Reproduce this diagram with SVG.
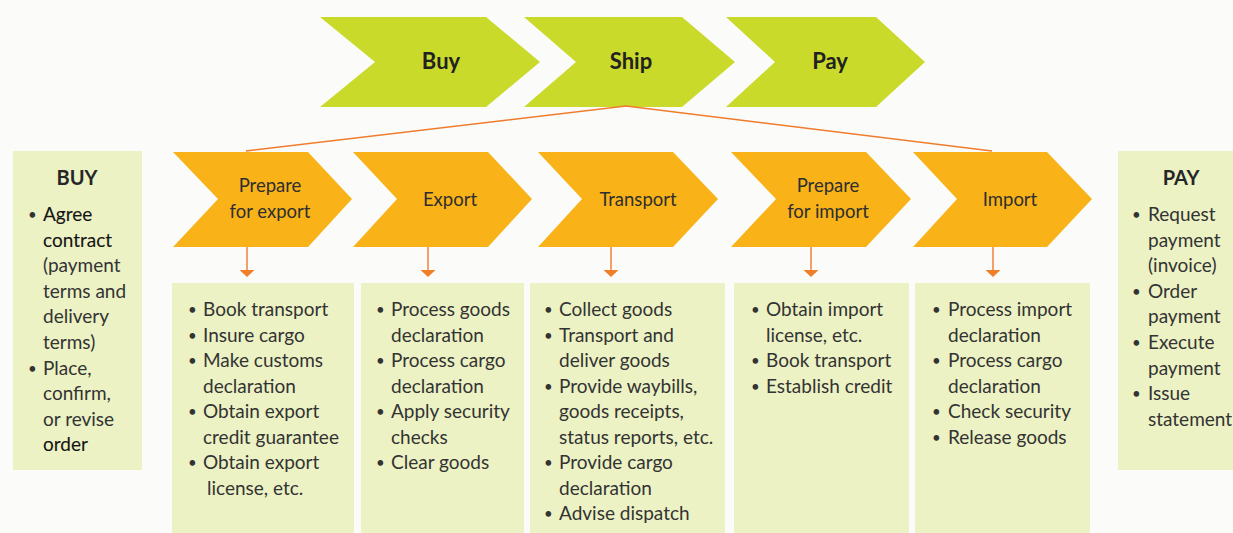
<svg xmlns="http://www.w3.org/2000/svg" width="1233" height="533" viewBox="0 0 1233 533">
<defs>
<style>
.bg{fill:#fbfcfa}
.g{fill:#c9da2a}
.o{fill:#f9b318}
.box{fill:#ecf2c4}
text{font-family:Lato,"Open Sans","Liberation Sans",sans-serif;fill:#333}
.big{font-size:22px;font-weight:bold;text-anchor:middle;fill:#222}
.mid{font-size:18.5px;text-anchor:middle;fill:#2e2e2e}
.hd{font-size:20px;font-weight:bold;text-anchor:middle;fill:#262626}
.t{font-size:19px}
.b{font-size:15px}
.em{fill:#151515;stroke:#151515;stroke-width:0.1}
.ln{fill:none;stroke:#f07b2c;stroke-width:1.4}
.ar{stroke:#f4955a;stroke-width:1.8}
.ah{fill:#f07f2a}
</style>
</defs>
<rect class="bg" x="0" y="0" width="1233" height="533"/>

<g id="top-buy"><polygon class="g" points="320,17 486,17 540,62 486,107 320,107 375,62"/><text class="big" x="441" y="69">Buy</text></g>
<g id="top-ship"><polygon class="g" points="524,17 682,17 735,62 682,107 524,107 576,62"/><text class="big" x="631" y="69">Ship</text></g>
<g id="top-pay"><polygon class="g" points="726,17 876,17 925,62 876,107 726,107 775,62"/><text class="big" x="830" y="69">Pay</text></g>

<g id="connectors">
<polyline class="ln" points="246,151 626,106 992,151"/>
<line class="ar" x1="247" y1="247" x2="247" y2="271"/><polygon class="ah" points="239.5,270 254.5,270 247,277"/>
<line class="ar" x1="428" y1="247" x2="428" y2="271"/><polygon class="ah" points="420.5,270 435.5,270 428,277"/>
<line class="ar" x1="611" y1="247" x2="611" y2="271"/><polygon class="ah" points="603.5,270 618.5,270 611,277"/>
<line class="ar" x1="811" y1="247" x2="811" y2="271"/><polygon class="ah" points="803.5,270 818.5,270 811,277"/>
<line class="ar" x1="993" y1="247" x2="993" y2="271"/><polygon class="ah" points="985.5,270 1000.5,270 993,277"/>
</g>

<g id="step-prepare-export"><polygon class="o" points="173,152 308,152 352,199 308,247 173,247 218,199"/><text class="mid" x="270" y="192">Prepare</text><text class="mid" x="270" y="218">for export</text></g>
<g id="step-export"><polygon class="o" points="353,152 488,152 532,199 488,247 353,247 397,199"/><text class="mid" x="450" y="206">Export</text></g>
<g id="step-transport"><polygon class="o" points="538,152 673,152 718,199 673,247 538,247 582,199"/><text class="mid" x="638" y="206">Transport</text></g>
<g id="step-prepare-import"><polygon class="o" points="731,152 866,152 911,199 866,247 731,247 776,199"/><text class="mid" x="828" y="192">Prepare</text><text class="mid" x="828" y="218">for import</text></g>
<g id="step-import"><polygon class="o" points="913,152 1047,152 1092,199 1047,247 913,247 957,199"/><text class="mid" x="1010" y="206">Import</text></g>

<g id="buy-box">
<rect class="box" x="13" y="151" width="129" height="319"/>
<text class="hd" x="77" y="185">BUY</text>
<text class="t b"><tspan x="28" y="220">•</tspan><tspan x="28" y="373.6">•</tspan></text>
<text class="t"><tspan x="43" y="221" class="em">Agree</tspan><tspan x="43" y="246.6" class="em">contract</tspan><tspan x="43" y="272.2">(payment</tspan><tspan x="43" y="297.8">terms and</tspan><tspan x="43" y="323.4">delivery</tspan><tspan x="43" y="349">terms)</tspan><tspan x="43" y="374.6">Place,</tspan><tspan x="43" y="400.2">confirm,</tspan><tspan x="43" y="425.8">or revise</tspan><tspan x="43" y="451.4" class="em">order</tspan></text>
</g>

<g id="box-prepare-export">
<rect class="box" x="172" y="283" width="182" height="250"/>
<text class="t b"><tspan x="188" y="315">•</tspan><tspan x="188" y="340.5">•</tspan><tspan x="188" y="366">•</tspan><tspan x="188" y="417">•</tspan><tspan x="188" y="468">•</tspan></text>
<text class="t"><tspan x="203" y="316">Book transport</tspan><tspan x="203" y="341.5">Insure cargo</tspan><tspan x="203" y="367">Make customs</tspan><tspan x="203" y="392.5">declaration</tspan><tspan x="203" y="418">Obtain export</tspan><tspan x="203" y="443.5">credit guarantee</tspan><tspan x="203" y="469">Obtain export</tspan><tspan x="207" y="494.5">license, etc.</tspan></text>
</g>

<g id="box-export">
<rect class="box" x="361" y="283" width="163" height="250"/>
<text class="t b"><tspan x="376" y="315">•</tspan><tspan x="376" y="366">•</tspan><tspan x="376" y="417">•</tspan><tspan x="376" y="468">•</tspan></text>
<text class="t"><tspan x="391" y="316">Process goods</tspan><tspan x="391" y="341.5">declaration</tspan><tspan x="391" y="367">Process cargo</tspan><tspan x="391" y="392.5">declaration</tspan><tspan x="391" y="418">Apply security</tspan><tspan x="391" y="443.5">checks</tspan><tspan x="391" y="469">Clear goods</tspan></text>
</g>

<g id="box-transport">
<rect class="box" x="530" y="283" width="195" height="250"/>
<text class="t b"><tspan x="544" y="315">•</tspan><tspan x="544" y="340.5">•</tspan><tspan x="544" y="391.5">•</tspan><tspan x="544" y="468">•</tspan><tspan x="544" y="519">•</tspan></text>
<text class="t"><tspan x="559" y="316">Collect goods</tspan><tspan x="559" y="341.5">Transport and</tspan><tspan x="559" y="367">deliver goods</tspan><tspan x="559" y="392.5">Provide waybills,</tspan><tspan x="559" y="418">goods receipts,</tspan><tspan x="559" y="443.5">status reports, etc.</tspan><tspan x="559" y="469">Provide cargo</tspan><tspan x="559" y="494.5">declaration</tspan><tspan x="559" y="520">Advise dispatch</tspan></text>
</g>

<g id="box-prepare-import">
<rect class="box" x="734" y="283" width="175" height="250"/>
<text class="t b"><tspan x="751" y="315">•</tspan><tspan x="751" y="366">•</tspan><tspan x="751" y="391.5">•</tspan></text>
<text class="t"><tspan x="766" y="316">Obtain import</tspan><tspan x="766" y="341.5">license, etc.</tspan><tspan x="766" y="367">Book transport</tspan><tspan x="766" y="392.5">Establish credit</tspan></text>
</g>

<g id="box-import">
<rect class="box" x="915" y="283" width="175" height="250"/>
<text class="t b"><tspan x="932" y="315">•</tspan><tspan x="932" y="366">•</tspan><tspan x="932" y="417">•</tspan><tspan x="932" y="442.5">•</tspan></text>
<text class="t"><tspan x="948" y="316">Process import</tspan><tspan x="948" y="341.5">declaration</tspan><tspan x="948" y="367">Process cargo</tspan><tspan x="948" y="392.5">declaration</tspan><tspan x="948" y="418">Check security</tspan><tspan x="948" y="443.5">Release goods</tspan></text>
</g>

<g id="pay-box">
<rect class="box" x="1118" y="151" width="120" height="319"/>
<text class="hd" x="1181" y="185">PAY</text>
<text class="t b"><tspan x="1132" y="220">•</tspan><tspan x="1132" y="296.8">•</tspan><tspan x="1132" y="348">•</tspan><tspan x="1132" y="399.2">•</tspan></text>
<text class="t"><tspan x="1148" y="221">Request</tspan><tspan x="1148" y="246.6">payment</tspan><tspan x="1148" y="272.2">(invoice)</tspan><tspan x="1148" y="297.8">Order</tspan><tspan x="1148" y="323.4">payment</tspan><tspan x="1148" y="349">Execute</tspan><tspan x="1148" y="374.6">payment</tspan><tspan x="1148" y="400.2">Issue</tspan><tspan x="1148" y="425.8">statement</tspan></text>
</g>
</svg>
